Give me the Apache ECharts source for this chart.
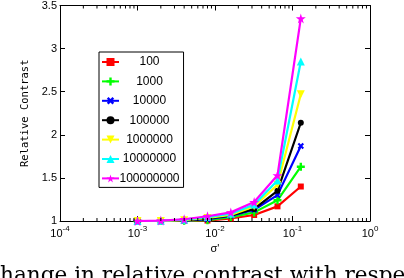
<!DOCTYPE html>
<html>
<head>
<meta charset="utf-8">
<script src="https://cdn.jsdelivr.net/npm/echarts@6/dist/echarts.min.js"></script>
<style>html,body{margin:0;padding:0;background:#fff}#c{width:404px;height:278px}</style>
</head>
<body>
<div id="c"></div>
<script>
const sigma = [0.001, 0.002, 0.004, 0.008, 0.016, 0.032, 0.064, 0.128];
const names = ['100', '1000', '10000', '100000', '1000000', '10000000', '100000000'];
const s100 = [1.0, 1.0, 1.0, 1.005, 1.03, 1.07, 1.17, 1.40];
const s1000 = [1.0, 1.0, 1.003, 1.01, 1.045, 1.10, 1.24, 1.63];
const s10000 = [1.0, 1.0, 1.005, 1.02, 1.06, 1.13, 1.30, 1.87];
const s100000 = [1.0, 1.0, 1.008, 1.03, 1.065, 1.14, 1.35, 2.14];
const s1000000 = [1.0, 1.0, 1.01, 1.035, 1.07, 1.17, 1.42, 2.47];
const s10000000 = [1.0, 1.003, 1.015, 1.045, 1.085, 1.19, 1.47, 2.85];
const s100000000 = [1.0, 1.005, 1.02, 1.055, 1.10, 1.22, 1.53, 3.35];
const yTicks = [1, 1.5, 2, 2.5, 3, 3.5];
const xMinorTicks = [];
[-4, -3, -2, -1].forEach(e => { for (let d = 2; d <= 9; d++) xMinorTicks.push(d * Math.pow(10, e)); });
const caption = 'hange in relative contrast with respe';

const allSeries = [s100, s1000, s10000, s100000, s1000000, s10000000, s100000000];
const colors = ['#ff0000', '#00ff00', '#0000ff', '#000000', '#ffff00', '#00ffff', '#ff00ff'];
const STAR = 'path://M50,0 L61,35 L98,35 L68,57 L79,91 L50,70 L21,91 L32,57 L2,35 L39,35 Z';
const PLUS = 'path://M35,0H65V35H100V65H65V100H35V65H0V35H35Z';
const symbols = [
  {s: 'rect', size: 6, rot: 0},
  {s: PLUS, size: 8, rot: 0},
  {s: PLUS, size: 7, rot: 45},
  {s: 'circle', size: 6, rot: 0},
  {s: 'triangle', size: 8, rot: 180},
  {s: 'triangle', size: 8, rot: 0},
  {s: STAR, size: 10, rot: 0}
];

const lineSeries = allSeries.map((vals, i) => ({
  name: names[i],
  type: 'line',
  data: sigma.map((x, j) => [x, vals[j]]),
  symbol: symbols[i].s,
  symbolSize: symbols[i].size,
  symbolRotate: symbols[i].rot,
  showAllSymbol: true,
  lineStyle: {color: colors[i], width: 2.2},
  itemStyle: {color: colors[i]},
  z: 3 + i
}));

const minorSeries = {
  type: 'custom',
  xAxisIndex: 0, yAxisIndex: 0,
  silent: true,
  data: xMinorTicks.map(v => [v, 1]),
  encode: {x: 0, y: 1},
  clip: false,
  z: 20,
  renderItem: (params, api) => {
    const x = api.value(0);
    const pb = api.coord([x, yTicks[0]]);
    const pt = api.coord([x, yTicks[yTicks.length - 1]]);
    return {type: 'group', children: [
      {type: 'line', shape: {x1: pb[0], y1: pb[1], x2: pb[0], y2: pb[1] - 3}, style: {stroke: '#000', lineWidth: 1}},
      {type: 'line', shape: {x1: pt[0], y1: pt[1], x2: pt[0], y2: pt[1] + 3}, style: {stroke: '#000', lineWidth: 1}}
    ]};
  }
};

const axisFont = 'Liberation Sans, Arial, sans-serif';
const chart = echarts.init(document.getElementById('c'), null, {renderer: 'canvas'});
chart.setOption({
  animation: false,
  backgroundColor: '#fff',
  grid: {left: 60, top: 5, width: 310, height: 216, containLabel: false},
  legend: {
    data: names,
    orient: 'vertical',
    left: 99, top: 52,
    padding: [4, 4, 3, 2],
    itemWidth: 17, itemHeight: 10, itemGap: 7.4,
    backgroundColor: '#fff',
    borderColor: '#000', borderWidth: 1, borderRadius: 0,
    formatter: n => '{a|' + n + '}',
    textStyle: {
      rich: {a: {width: 51, align: 'center', fontSize: 12, lineHeight: 10, fontFamily: axisFont, color: '#000'}}
    },
    z: 30
  },
  xAxis: [{
    type: 'log', logBase: 10, min: 0.0001, max: 1,
    position: 'bottom',
    name: "σ'", nameLocation: 'middle', nameGap: 17,
    nameTextStyle: {fontSize: 11, fontFamily: axisFont, color: '#000'},
    axisLine: {show: true, lineStyle: {color: '#000', width: 1}},
    axisTick: {show: true, inside: true, length: 5, lineStyle: {color: '#000'}},
    splitLine: {show: false},
    minorTick: {show: false},
    axisLabel: {
      margin: 4,
      formatter: v => '{b|10}{s|' + Math.round(Math.log10(v)) + '}',
      rich: {
        b: {fontSize: 11, fontFamily: axisFont, color: '#000', lineHeight: 14, verticalAlign: 'bottom'},
        s: {fontSize: 8, fontFamily: axisFont, color: '#000', lineHeight: 14, verticalAlign: 'top', padding: [0, 0, 6, 0]}
      }
    }
  }, {
    type: 'log', logBase: 10, min: 0.0001, max: 1,
    position: 'top',
    axisLine: {show: true, lineStyle: {color: '#000', width: 1}},
    axisTick: {show: true, inside: true, length: 5, lineStyle: {color: '#000'}},
    axisLabel: {show: false},
    splitLine: {show: false}
  }],
  yAxis: [{
    type: 'value', min: 1, max: 3.5, interval: 0.5,
    position: 'left',
    name: 'Relative Contrast', nameLocation: 'middle', nameGap: 23,
    nameTextStyle: {fontSize: 10.5, fontFamily: 'DejaVu Sans Mono, monospace', color: '#000'},
    axisLine: {show: true, lineStyle: {color: '#000', width: 1}},
    axisTick: {show: true, inside: true, length: 5, lineStyle: {color: '#000'}},
    splitLine: {show: false},
    axisLabel: {margin: 3, fontSize: 11, fontFamily: axisFont, color: '#000', formatter: v => String(v)}
  }, {
    type: 'value', min: 1, max: 3.5, interval: 0.5,
    position: 'right',
    axisLine: {show: true, lineStyle: {color: '#000', width: 1}},
    axisTick: {show: true, inside: true, length: 5, lineStyle: {color: '#000'}},
    axisLabel: {show: false},
    splitLine: {show: false}
  }],
  graphic: [{
    type: 'text', left: 0, top: 265, silent: true,
    style: {text: caption, font: '21.6px "DejaVu Serif", serif', fill: '#000'}
  }],
  series: [...lineSeries, minorSeries]
});
</script>
</body>
</html>
